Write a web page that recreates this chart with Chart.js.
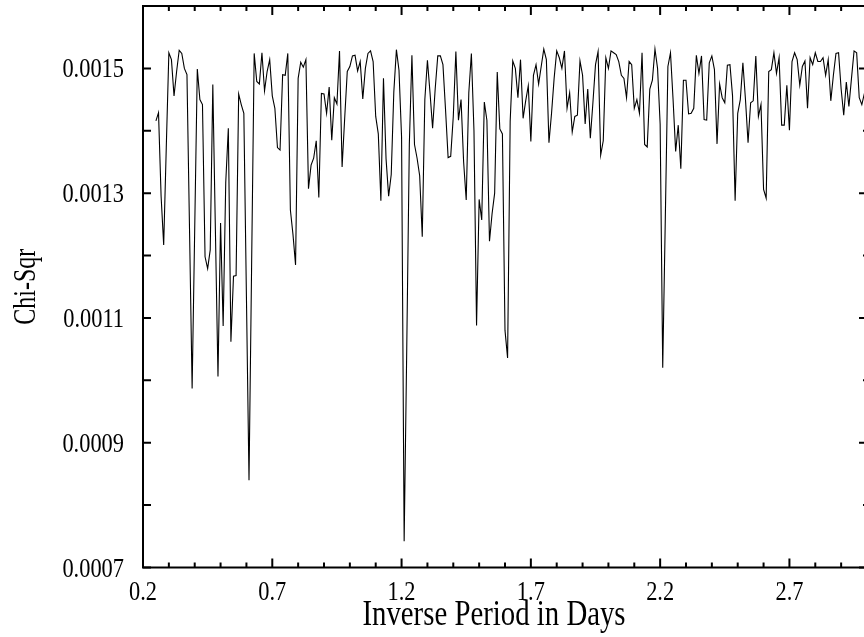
<!DOCTYPE html>
<html>
<head>
<meta charset="utf-8">
<script src="https://cdn.jsdelivr.net/npm/chart.js@4.4.1/dist/chart.umd.min.js"></script>
<style>
html, body { margin: 0; padding: 0; background: #fff; overflow: hidden; }
canvas { display: block; }
</style>
</head>
<body>
<canvas id="chiChart" width="900" height="637"></canvas>
<script>
// inverse period (1/days) of each trial
var freq = [
  0.25, 0.26, 0.27, 0.28, 0.29, 0.30, 0.31, 0.32, 0.33, 0.34,
  0.35, 0.36, 0.37, 0.38, 0.39, 0.40, 0.41, 0.42, 0.43, 0.44,
  0.45, 0.46, 0.47, 0.48, 0.49, 0.50, 0.51, 0.52, 0.53, 0.54,
  0.55, 0.56, 0.57, 0.58, 0.59, 0.60, 0.61, 0.62, 0.63, 0.64,
  0.65, 0.66, 0.67, 0.68, 0.69, 0.70, 0.71, 0.72, 0.73, 0.74,
  0.75, 0.76, 0.77, 0.78, 0.79, 0.80, 0.81, 0.82, 0.83, 0.84,
  0.85, 0.86, 0.87, 0.88, 0.89, 0.90, 0.91, 0.92, 0.93, 0.94,
  0.95, 0.96, 0.97, 0.98, 0.99, 1.00, 1.01, 1.02, 1.03, 1.04,
  1.05, 1.06, 1.07, 1.08, 1.09, 1.10, 1.11, 1.12, 1.13, 1.14,
  1.15, 1.16, 1.17, 1.18, 1.19, 1.20, 1.21, 1.22, 1.23, 1.24,
  1.25, 1.26, 1.27, 1.28, 1.29, 1.30, 1.31, 1.32, 1.33, 1.34,
  1.35, 1.36, 1.37, 1.38, 1.39, 1.40, 1.41, 1.42, 1.43, 1.44,
  1.45, 1.46, 1.47, 1.48, 1.49, 1.50, 1.51, 1.52, 1.53, 1.54,
  1.55, 1.56, 1.57, 1.58, 1.59, 1.60, 1.61, 1.62, 1.63, 1.64,
  1.65, 1.66, 1.67, 1.68, 1.69, 1.70, 1.71, 1.72, 1.73, 1.74,
  1.75, 1.76, 1.77, 1.78, 1.79, 1.80, 1.81, 1.82, 1.83, 1.84,
  1.85, 1.86, 1.87, 1.88, 1.89, 1.90, 1.91, 1.92, 1.93, 1.94,
  1.95, 1.96, 1.97, 1.98, 1.99, 2.00, 2.01, 2.02, 2.03, 2.04,
  2.05, 2.06, 2.07, 2.08, 2.09, 2.10, 2.11, 2.12, 2.13, 2.14,
  2.15, 2.16, 2.17, 2.18, 2.19, 2.20, 2.21, 2.22, 2.23, 2.24,
  2.25, 2.26, 2.27, 2.28, 2.29, 2.30, 2.31, 2.32, 2.33, 2.34,
  2.35, 2.36, 2.37, 2.38, 2.39, 2.40, 2.41, 2.42, 2.43, 2.44,
  2.45, 2.46, 2.47, 2.48, 2.49, 2.50, 2.51, 2.52, 2.53, 2.54,
  2.55, 2.56, 2.57, 2.58, 2.59, 2.60, 2.61, 2.62, 2.63, 2.64,
  2.65, 2.66, 2.67, 2.68, 2.69, 2.70, 2.71, 2.72, 2.73, 2.74,
  2.75, 2.76, 2.77, 2.78, 2.79, 2.80, 2.81, 2.82, 2.83, 2.84,
  2.85, 2.86, 2.87, 2.88, 2.89, 2.90, 2.91, 2.92, 2.93, 2.94,
  2.95, 2.96, 2.97, 2.98, 2.99
];

// chi-square at each trial
var chiSqr = [
  0.001416, 0.001429, 0.001295, 0.001217, 0.001373, 0.001525, 0.001514, 0.001456, 0.001495, 0.001529,
  0.001524, 0.001500, 0.001490, 0.001240, 0.000987, 0.001243, 0.001499, 0.001450, 0.001442, 0.001198,
  0.001179, 0.001209, 0.001474, 0.001240, 0.001006, 0.001252, 0.001087, 0.001317, 0.001404, 0.001062,
  0.001167, 0.001168, 0.001459, 0.001442, 0.001428, 0.001134, 0.000840, 0.001182, 0.001524, 0.001479,
  0.001475, 0.001525, 0.001464, 0.001495, 0.001514, 0.001456, 0.001436, 0.001373, 0.001369, 0.001490,
  0.001489, 0.001524, 0.001273, 0.001234, 0.001185, 0.001484, 0.001510, 0.001502, 0.001514, 0.001307,
  0.001345, 0.001356, 0.001384, 0.001293, 0.001460, 0.001459, 0.001428, 0.001470, 0.001385, 0.001453,
  0.001443, 0.001528, 0.001342, 0.001420, 0.001495, 0.001503, 0.001520, 0.001521, 0.001496, 0.001511,
  0.001451, 0.001500, 0.001524, 0.001528, 0.001511, 0.001423, 0.001395, 0.001288, 0.001484, 0.001355,
  0.001295, 0.001330, 0.001462, 0.001530, 0.001497, 0.001390, 0.000742, 0.001050, 0.001378, 0.001521,
  0.001378, 0.001356, 0.001328, 0.001230, 0.001450, 0.001513, 0.001461, 0.001404, 0.001467, 0.001520,
  0.001520, 0.001506, 0.001434, 0.001357, 0.001359, 0.001423, 0.001527, 0.001417, 0.001450, 0.001350,
  0.001289, 0.001461, 0.001524, 0.001400, 0.001088, 0.001290, 0.001257, 0.001446, 0.001417, 0.001223,
  0.001267, 0.001300, 0.001494, 0.001403, 0.001395, 0.001080, 0.001036, 0.001415, 0.001512, 0.001500,
  0.001453, 0.001514, 0.001420, 0.001448, 0.001472, 0.001383, 0.001489, 0.001506, 0.001475, 0.001503,
  0.001531, 0.001514, 0.001381, 0.001428, 0.001484, 0.001528, 0.001517, 0.001500, 0.001528, 0.001436,
  0.001461, 0.001398, 0.001423, 0.001425, 0.001512, 0.001489, 0.001411, 0.001467, 0.001388, 0.001445,
  0.001506, 0.001527, 0.001361, 0.001384, 0.001517, 0.001500, 0.001528, 0.001525, 0.001522, 0.001511,
  0.001489, 0.001484, 0.001453, 0.001511, 0.001506, 0.001436, 0.001450, 0.001428, 0.001525, 0.001378,
  0.001374, 0.001467, 0.001481, 0.001531, 0.001500, 0.001411, 0.001020, 0.001260, 0.001503, 0.001525,
  0.001450, 0.001367, 0.001409, 0.001339, 0.001481, 0.001481, 0.001427, 0.001428, 0.001436, 0.001521,
  0.001492, 0.001520, 0.001418, 0.001417, 0.001509, 0.001520, 0.001498, 0.001379, 0.001475, 0.001453,
  0.001445, 0.001505, 0.001506, 0.001456, 0.001288, 0.001428, 0.001450, 0.001509, 0.001450, 0.001381,
  0.001445, 0.001448, 0.001520, 0.001423, 0.001442, 0.001306, 0.001292, 0.001495, 0.001498, 0.001525,
  0.001492, 0.001517, 0.001409, 0.001409, 0.001473, 0.001401, 0.001511, 0.001525, 0.001514, 0.001473,
  0.001503, 0.001512, 0.001436, 0.001517, 0.001506, 0.001525, 0.001511, 0.001511, 0.001517, 0.001489,
  0.001514, 0.001448, 0.001489, 0.001524, 0.001525, 0.001467, 0.001425, 0.001478, 0.001439, 0.001484,
  0.001528, 0.001525, 0.001453, 0.001442, 0.001460
];

var xLabels = ['0.2', '0.7', '1.2', '1.7', '2.2', '2.7'];
var yLabels = ['0.0007', '0.0009', '0.0011', '0.0013', '0.0015'];
var xTitle = 'Inverse Period in Days';
var yTitle = 'Chi-Sqr';

var points = freq.map(function (f, i) { return { x: f, y: chiSqr[i] }; });

// text in the original figure is squeezed sideways, so draw it scaled
function squeezed(ctx, text, x, y, sx) {
  ctx.save();
  ctx.translate(x, y);
  ctx.scale(sx, 1);
  ctx.fillText(text, 0, 0);
  ctx.restore();
}

// gnuplot style frame: box, inward ticks on all four sides, serif labels
var framePlugin = {
  id: 'frame',
  afterDraw: function (chart) {
    var ctx = chart.ctx, a = chart.chartArea;
    var xs = chart.scales.x, ys = chart.scales.y;
    ctx.save();
    ctx.strokeStyle = '#000';
    ctx.lineWidth = 2;
    ctx.strokeRect(a.left, a.top, a.right - a.left, a.bottom - a.top);

    ctx.beginPath();
    for (var k = 2; k <= 30; k++) {
      var px = xs.getPixelForValue(k / 10);
      var len = (k - 2) % 5 === 0 ? 9 : 5;
      ctx.moveTo(px, a.bottom); ctx.lineTo(px, a.bottom - len);
      ctx.moveTo(px, a.top); ctx.lineTo(px, a.top + len);
    }
    for (var m = 7; m <= 16; m++) {
      var py = ys.getPixelForValue(m / 10000);
      var major = (m - 7) % 2 === 0;
      ctx.moveTo(a.left, py); ctx.lineTo(a.left + 8, py);
      ctx.moveTo(a.right, py); ctx.lineTo(a.right - (major ? 8 : 4), py);
    }
    ctx.stroke();

    ctx.fillStyle = '#000';
    ctx.font = '28px "Liberation Serif"';
    ctx.textAlign = 'right';
    ctx.textBaseline = 'alphabetic';
    yLabels.forEach(function (t) {
      squeezed(ctx, t, 124, ys.getPixelForValue(parseFloat(t)) + 9, 0.8);
    });
    ctx.textAlign = 'center';
    xLabels.forEach(function (t) {
      squeezed(ctx, t, xs.getPixelForValue(parseFloat(t)), 600, 0.8);
    });

    ctx.font = '36px "Liberation Serif"';
    squeezed(ctx, xTitle, 494, 625, 0.8);

    ctx.translate(27, (a.top + a.bottom) / 2);
    ctx.rotate(-Math.PI / 2);
    ctx.font = '32px "Liberation Serif"';
    ctx.textBaseline = 'middle';
    squeezed(ctx, yTitle, 0, 0, 0.75);
    ctx.restore();
  }
};

var ctx = document.getElementById('chiChart').getContext('2d');

var chiChart = new Chart(ctx, {
  type: 'line',
  data: {
    datasets: [{
      label: 'Chi-Sqr',
      data: points,
      borderColor: '#000',
      borderWidth: 1.1,
      pointRadius: 0,
      tension: 0,
      fill: false
    }]
  },
  options: {
    responsive: false,
    animation: false,
    layout: { padding: { left: 143, right: 33, top: 6, bottom: 69.5 } },
    plugins: { legend: { display: false }, tooltip: { enabled: false } },
    scales: {
      x: { type: 'linear', min: 0.2, max: 3.0, display: false },
      y: { type: 'linear', min: 0.0007, max: 0.0016, display: false }
    }
  },
  plugins: [framePlugin]
});
</script>
</body>
</html>
